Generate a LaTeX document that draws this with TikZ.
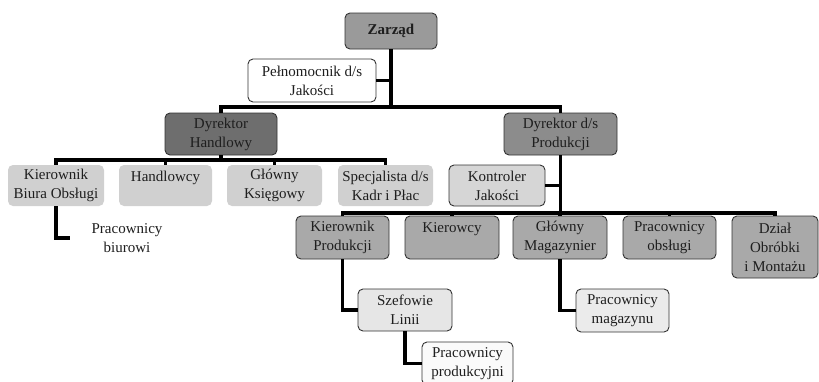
\documentclass[tikz,border=0pt]{standalone}
\usepackage{fontspec}
\setmainfont{Liberation Serif}
\definecolor{txt}{HTML}{1E1E1E}
\definecolor{edge}{HTML}{333333}
\definecolor{czarz}{HTML}{9A9A9A}
\definecolor{cdh}{HTML}{6E6E6E}
\definecolor{cdp}{HTML}{8C8C8C}
\definecolor{clight}{HTML}{D0D0D0}
\definecolor{ckj}{HTML}{D6D6D6}
\definecolor{cmid}{HTML}{A9A9A9}
\definecolor{csl}{HTML}{E6E6E6}
\definecolor{cpm}{HTML}{EBEBEB}
\definecolor{cpp}{HTML}{FAFAFA}
\tikzset{
  box/.style={rectangle, rounded corners=5pt, inner sep=0pt, align=center,
    text=txt, font=\fontsize{15}{19}\selectfont},
  bbox/.style={box, draw=edge, line width=0.9pt},
  conn/.style={draw=black, line width=3.6pt, line join=miter}
}
\begin{document}
\begin{tikzpicture}[x=1pt,y=-1pt]
\useasboundingbox (0,0) rectangle (819,381);
\clip (0,0) rectangle (819,381);
\fill[white] (0,0) rectangle (819,381);

% nodes
\node[bbox, fill=czarz, minimum width=92, minimum height=36, font=\fontsize{15}{19}\selectfont\bfseries] (zarzad) at (391,31) {Zarząd};
\node[bbox, fill=white, minimum width=128, minimum height=43] (peln) at (312,80.5) {Pełnomocnik d/s\\Jakości};
\node[bbox, fill=cdh, minimum width=112, minimum height=42] (dh) at (221,134) {Dyrektor\\Handlowy};
\node[bbox, fill=cdp, minimum width=113, minimum height=42] (dp) at (560.5,134) {Dyrektor d/s\\Produkcji};

\node[box, fill=clight, minimum width=96, minimum height=41] (kbo) at (56,185.5) {Kierownik\\Biura Obsługi};
\node[box, fill=clight, minimum width=93, minimum height=41] (hand) at (165.5,185.5) {Handlowcy\\\mbox{}};
\node[box, fill=clight, minimum width=95, minimum height=41] (gk) at (274.5,185.5) {Główny\\Księgowy};
\node[box, fill=clight, minimum width=95, minimum height=41] (spec) at (385.5,185.5) {Specjalista d/s\\Kadr i Płac};
\node[bbox, fill=ckj, minimum width=96, minimum height=41] (kj) at (497,185.5) {Kontroler\\Jakości};

\node[bbox, fill=cmid, minimum width=93, minimum height=43] (kp) at (342.5,237.5) {Kierownik\\Produkcji};
\node[bbox, fill=cmid, minimum width=94, minimum height=43] (kier) at (452,237.5) {Kierowcy\\\mbox{}};
\node[bbox, fill=cmid, minimum width=94, minimum height=43] (gm) at (560,237.5) {Główny\\Magazynier};
\node[bbox, fill=cmid, minimum width=93, minimum height=43] (po) at (669.5,237.5) {Pracownicy\\obsługi};
\node[bbox, fill=cmid, minimum width=86, minimum height=62] (dz) at (775,247) {Dział\\Obróbki\\i Montażu};

\node[bbox, fill=csl, minimum width=94, minimum height=42] (sl) at (405,310) {Szefowie\\Linii};
\node[bbox, fill=cpm, minimum width=93, minimum height=43] (pm) at (622.5,310.5) {Pracownicy\\magazynu};
\node[bbox, fill=cpp, minimum width=91, minimum height=43] (pp) at (467.5,363.5) {Pracownicy\\produkcyjni};

\node[box] (pb) at (127,238) {Pracownicy\\biurowi};
\coordinate (pbend) at (70,238);

% connectors
\draw[conn] (zarzad.south) -- (zarzad.south |- 0,107);
\draw[conn] (peln.east) -- (peln.east -| zarzad.south);
\draw[conn] (dh.north) -- (dh.north |- 0,107) -- (dp.north |- 0,107) -- (dp.north);

\draw[conn] (kbo.north) -- (kbo.north |- 0,160) -- (spec.north |- 0,160) -- (spec.north);
\draw[conn] (hand.north) -- (hand.north |- 0,160);
\draw[conn] (gk.north) -- (gk.north |- 0,160);
\draw[conn] (dh.south) -- (dh.south |- 0,160);

\draw[conn] (dp.south) -- (dp.south |- 0,213);
\draw[conn] (kj.east) -- (kj.east -| dp.south);
\draw[conn] (kp.north) -- (kp.north |- 0,213) -- (dz.north |- 0,213) -- (dz.north);
\draw[conn] (kier.north) -- (kier.north |- 0,213);
\draw[conn] (gm.north) -- (gm.north |- 0,213);
\draw[conn] (po.north) -- (po.north |- 0,213);

\draw[conn] (kbo.south) |- (pbend);
\draw[conn] (kp.south) |- (sl.west);
\draw[conn] (sl.south) |- (pp.west);
\draw[conn] (gm.south) |- (pm.west);
\end{tikzpicture}
\end{document}
